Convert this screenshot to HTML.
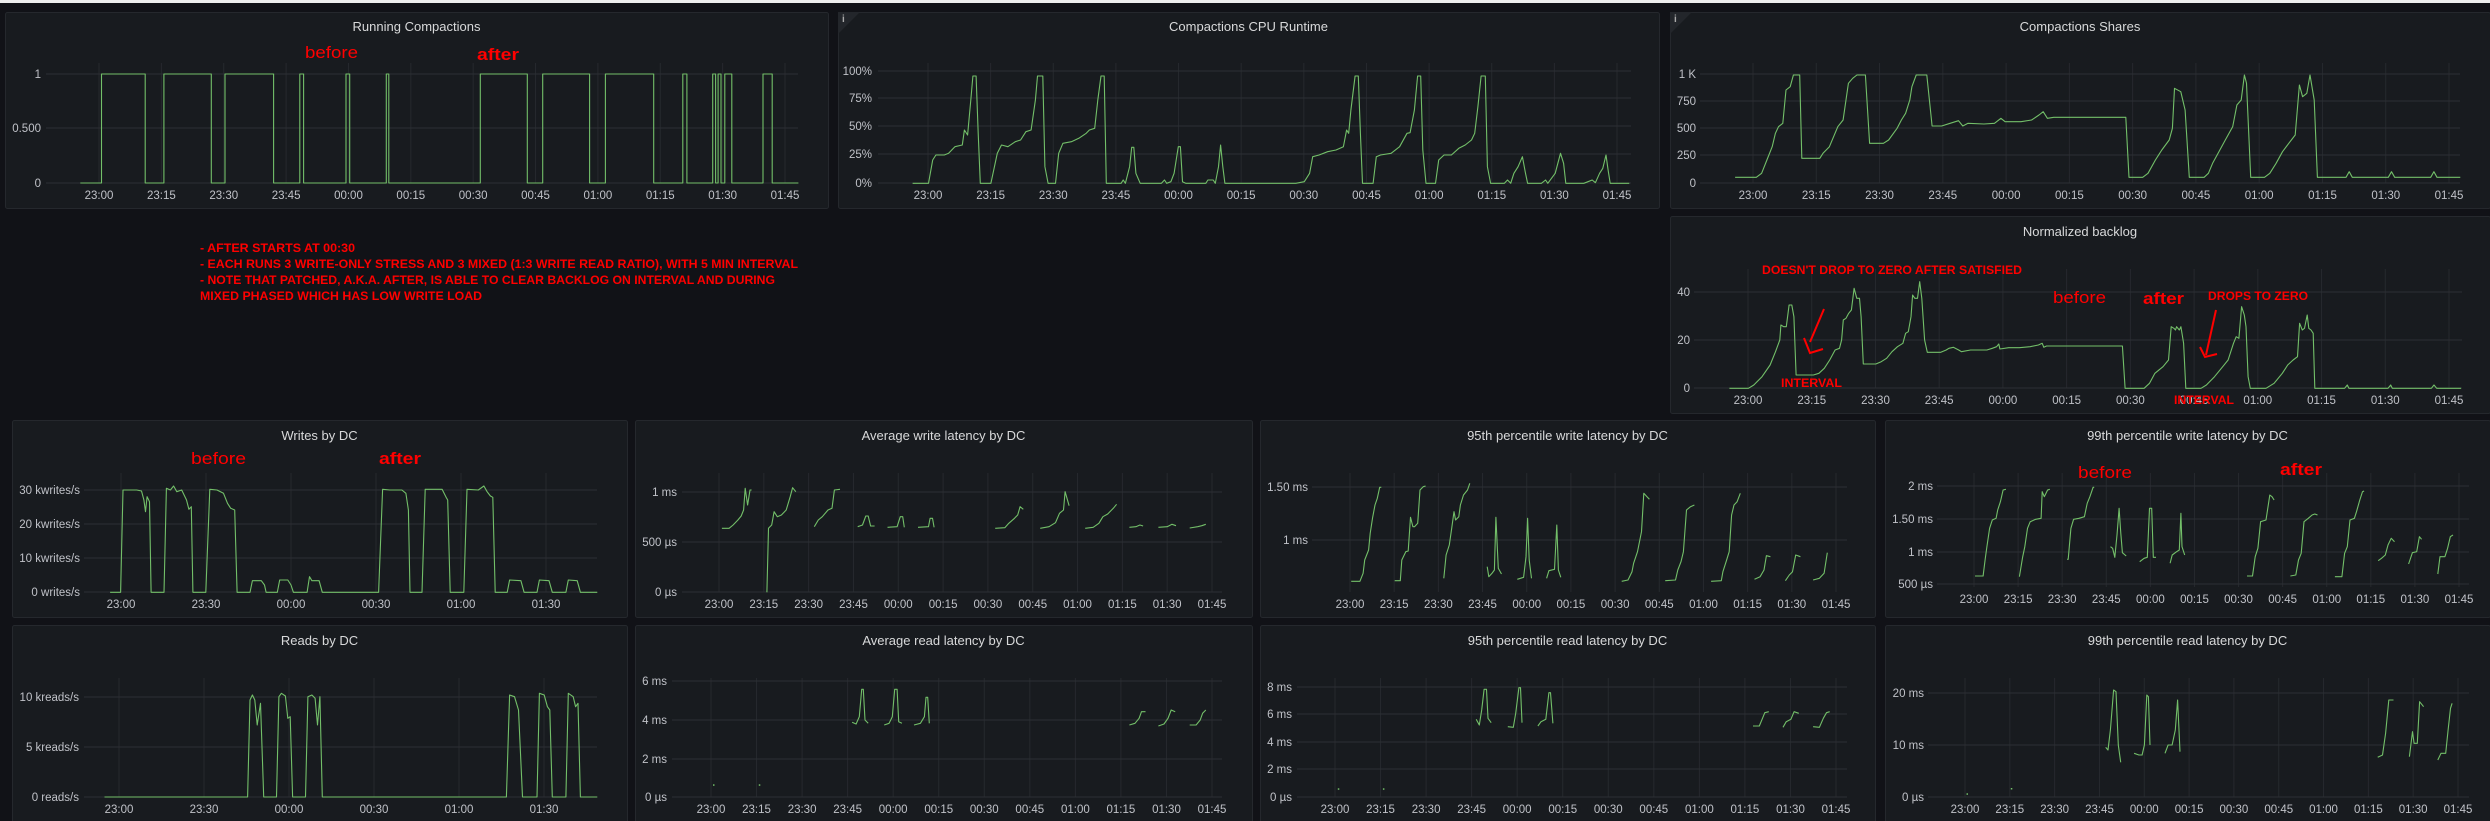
<!DOCTYPE html>
<html><head><meta charset="utf-8"><style>
html,body{margin:0;padding:0;background:#111217;width:2490px;height:821px;overflow:hidden}
svg{display:block}
text{font-family:"Liberation Sans",sans-serif}
</style></head><body>
<svg id="s" xmlns="http://www.w3.org/2000/svg" width="2490" height="821" viewBox="0 0 2490 821"></svg>
<script>
const S=document.getElementById('s');const NS='http://www.w3.org/2000/svg';
function el(n,a,t){const e=document.createElementNS(NS,n);for(const k in a)e.setAttribute(k,a[k]);if(t!==undefined)e.textContent=t;S.appendChild(e);return e;}
el('rect',{x:0,y:0,width:2490,height:821,fill:'#111217'});
el('rect',{x:0,y:0,width:2490,height:3,fill:'#eeeeee'});
const T12=['23:00','23:15','23:30','23:45','00:00','00:15','00:30','00:45','01:00','01:15','01:30','01:45'];
const T6=['23:00','23:30','00:00','00:30','01:00','01:30'];
function chart(c){
 el('rect',{x:c.p[0]+.5,y:c.p[1]+.5,width:c.p[2],height:c.p[3],fill:'#181b1f',stroke:'#25282d','stroke-width':1,rx:2});
 el('text',{x:c.p[0]+c.p[2]/2,y:c.ty,'text-anchor':'middle','font-size':13,fill:'#d8d9da'},c.title);
 const yb=c.yb!==undefined?c.yb:c.yt[c.yt.length-1][0];
 const n=c.xl.length;
 for(let i=0;i<n;i++){const x=c.x0+(c.x1-c.x0)*i/(n-1);
  el('line',{x1:x,y1:c.vt,x2:x,y2:yb,stroke:'#26292e','stroke-width':1});
  el('text',{x:x,y:yb+16,'text-anchor':'middle','font-size':11.5,fill:'#c0c2c8'},c.xl[i]);}
 for(const [y,l] of c.yt){el('line',{x1:c.gl,y1:y,x2:c.gr,y2:y,stroke:'#2c2f34','stroke-width':1});
  el('text',{x:c.lr,y:y+4,'text-anchor':'end','font-size':11.5,fill:'#c0c2c8'},l);}
 for(const seg of c.d){
  const pts=seg.map(p=>[(c.fx(p[0])).toFixed(1),(c.fy(p[1])).toFixed(1)]);
  if(pts.length==1){el('rect',{x:pts[0][0],y:pts[0][1],width:1.5,height:1.5,fill:'#73bf69'});continue;}
  el('polyline',{points:pts.map(p=>p.join(',')).join(' '),fill:'none',stroke:'#73bf69','stroke-width':1.1,'stroke-linejoin':'round'});}
}
function info(x,y){el('path',{d:`M${x} ${y} L${x+22} ${y} L${x} ${y+22} Z`,fill:'#23262b'});el('text',{x:x+4,y:y+10,'font-size':10,fill:'#aaa','font-weight':'bold'},'i');}
function rtext(x,y,w,s,t,b){el('text',{x:x,y:y,textLength:w,lengthAdjust:'spacingAndGlyphs','font-size':s,fill:'#ff0000','font-weight':b?'bold':'normal'},t);}
const rc=[[-4.5,0],[0.6,0],[0.6,1],[11.1,1],[11.1,0],[15.6,0],[15.6,1],[27,1],[27,0],[30.3,0],[30.3,1],[42,1],[42,0],[48.3,0],[48.3,1],[49.2,1],[49.2,0],[59.4,0],[59.4,1],[60.3,1],[60.3,0],[69.1,0],[69.1,1],[69.7,1],[69.7,0],[91.7,0],[91.7,1],[103,1],[103,0],[106.7,0],[106.7,1],[118,1],[118,0],[121.8,0],[121.8,1],[133.4,1],[133.4,0],[140.4,0],[140.4,1],[141.4,1],[141.4,0],[147.6,0],[147.6,1],[148.3,1],[148.3,0],[148.9,0],[148.9,1],[149.6,1],[149.6,0],[150.5,0],[150.5,1],[152.2,1],[152.2,0],[159.7,0],[159.7,1],[161.9,1],[161.9,0],[168.2,0]];
chart({p:[5,12,823,196],title:'Running Compactions',ty:31,x0:99,x1:785,xl:T12,vt:63,gl:46,gr:798,lr:41,
 yt:[[74,'1'],[128,'0.500'],[183,'0']],d:[rc],fx:t=>99+t*4.158,fy:v=>183-v*109});
const z5x=v=>830+v/0.9446;
chart({p:[838,12,821,196],title:'Compactions CPU Runtime',ty:31,x0:928,x1:1617,xl:T12,vt:63,gl:878,gr:1631,lr:872,
 yt:[[71,'100%'],[98,'75%'],[126,'50%'],[154,'25%'],[183,'0%']],fx:z5x,fy:v=>v/3,
 d:[[[78,550],[93,550],[97,480],[100,465],[108,465],[112,460],[118,440],[125,435],[127,390],[130,405],[133,300],[135,228],[138,228],[140,400],[142,550],[152,550],[158,460],[162,435],[168,440],[175,425],[180,420],[185,395],[190,390],[194,300],[196,228],[201,228],[203,500],[206,550],[213,550],[216,460],[220,430],[228,425],[235,415],[242,400],[245,390],[250,385],[253,300],[256,228],[259,228],[261,550],[275,550],[277,540],[279,550],[283,500],[285,442],[287,442],[289,520],[293,550],[313,550],[316,540],[318,550],[322,545],[325,520],[329,440],[331,440],[333,545],[336,550],[355,550],[357,540],[362,540],[364,550],[367,500],[369,435],[371,500],[373,550],[440,550],[448,545],[453,520],[456,470],[462,465],[470,455],[478,450],[485,440],[488,390],[490,400],[492,330],[496,228],[499,228],[501,400],[503,550],[513,550],[516,470],[520,465],[530,460],[538,440],[545,400],[548,398],[552,330],[555,228],[558,228],[560,450],[563,550],[572,550],[575,480],[580,465],[587,465],[594,445],[600,435],[606,420],[609,400],[612,320],[615,228],[619,228],[621,500],[624,550],[637,550],[640,540],[643,550],[646,520],[650,500],[654,470],[657,520],[659,550],[672,550],[676,540],[678,550],[685,520],[690,460],[693,490],[695,550],[712,550],[716,545],[720,540],[723,548],[727,520],[730,505],[733,465],[735,510],[737,550],[755,550]]]});
info(838,12);
chart({p:[1670,12,820,196],title:'Compactions Shares',ty:31,x0:1753,x1:2449,xl:T12,vt:63,gl:1700,gr:2460,lr:1696,
 yt:[[74,'1 K'],[101,'750'],[128,'500'],[155,'250'],[183,'0']],fx:z5x,fy:v=>v/3,
 d:[[[855,532],[875,532],[880,520],[885,480],[890,440],[893,400],[896,380],[900,370],[903,270],[907,260],[910,225],[916,225],[918,475],[935,475],[938,460],[944,440],[948,410],[952,380],[957,360],[962,250],[966,235],[970,225],[978,225],[982,430],[995,430],[1000,420],[1008,385],[1012,360],[1016,340],[1020,300],[1022,260],[1026,225],[1036,225],[1041,378],[1050,378],[1058,370],[1066,362],[1070,378],[1075,370],[1090,372],[1100,370],[1106,355],[1110,365],[1125,365],[1135,360],[1142,345],[1146,335],[1150,355],[1156,352],[1224,352],[1227,532],[1240,532],[1245,520],[1252,480],[1258,450],[1265,420],[1268,385],[1270,265],[1276,275],[1280,330],[1284,532],[1298,532],[1302,520],[1306,490],[1312,455],[1318,420],[1325,380],[1329,315],[1333,300],[1336,225],[1338,250],[1342,532],[1355,532],[1360,520],[1366,490],[1372,455],[1378,430],[1384,405],[1386,330],[1388,255],[1391,290],[1395,280],[1398,225],[1402,300],[1405,532],[1432,532],[1435,515],[1438,532],[1472,532],[1475,515],[1478,532],[1512,532],[1515,515],[1518,532],[1540,532]]]});
info(1670,12);
const z2x=v=>1640+v/1.845, z2y=v=>200+v/3;
chart({p:[1670,216,820,197],title:'Normalized backlog',ty:236,x0:1748,x1:2449,xl:T12,vt:269,gl:1694,gr:2462,lr:1690,
 yt:[[292,'40'],[340,'20'],[388,'0']],fx:z2x,fy:z2y,
 d:[[[165,565],[200,565],[210,555],[225,530],[240,495],[250,455],[258,420],[260,375],[265,380],[270,380],[275,315],[280,315],[284,350],[288,525],[320,525],[330,520],[340,505],[350,480],[360,450],[368,445],[372,420],[375,360],[380,355],[385,340],[390,330],[395,265],[400,295],[405,295],[408,350],[412,492],[435,492],[445,485],[455,475],[465,455],[475,440],[485,430],[490,400],[495,395],[500,350],[503,285],[507,295],[512,295],[516,245],[520,295],[525,420],[530,457],[555,457],[565,450],[570,445],[578,442],[588,450],[593,455],[610,450],[640,450],[650,445],[658,440],[662,432],[664,447],[680,443],[700,443],[720,440],[735,435],[742,430],[745,442],[750,438],[890,438],[895,565],[930,565],[940,550],[950,520],[965,500],[975,480],[980,380],[985,385],[988,390],[990,380],[995,390],[998,380],[1003,430],[1007,565],[1035,565],[1045,555],[1060,530],[1075,500],[1085,480],[1095,430],[1100,410],[1105,415],[1110,320],[1115,345],[1118,380],[1122,530],[1126,565],[1155,565],[1170,550],[1185,520],[1195,495],[1205,480],[1213,470],[1217,370],[1222,390],[1226,385],[1231,345],[1234,385],[1238,390],[1242,400],[1245,565],[1300,565],[1305,555],[1308,565],[1380,565],[1385,555],[1388,565],[1460,565],[1465,555],[1470,565],[1515,565]]]});
const z3x=v=>v/1.244, z3y=v=>410+v/3;
chart({p:[12,420,615,197],title:'Writes by DC',ty:440,x0:121,x1:546,xl:T6,vt:473,gl:84,gr:597,lr:80,
 yt:[[490,'30 kwrites/s'],[524,'20 kwrites/s'],[558,'10 kwrites/s'],[592,'0 writes/s']],fx:z3x,fy:z3y,
 d:[[[137,547],[150,547],[153,240],[170,240],[176,243],[179,270],[181,305],[183,260],[186,275],[188,547],[204,547],[207,235],[212,240],[216,228],[220,245],[226,240],[232,270],[235,298],[238,290],[240,547],[256,547],[261,238],[270,240],[278,250],[283,280],[287,295],[292,300],[295,547],[311,547],[314,512],[325,512],[329,525],[331,547],[345,547],[348,510],[358,510],[362,525],[365,547],[382,547],[385,500],[388,512],[397,512],[401,547],[471,547],[476,238],[485,240],[500,240],[505,250],[508,300],[510,547],[525,547],[529,238],[550,238],[555,262],[557,270],[560,547],[577,547],[581,238],[595,240],[602,228],[606,245],[610,258],[613,262],[616,547],[631,547],[634,510],[648,512],[652,547],[668,547],[671,510],[683,512],[687,547],[704,547],[707,510],[718,512],[722,547],[743,547]]]});
chart({p:[635,420,617,197],title:'Average write latency by DC',ty:440,x0:719,x1:1212,xl:T12,vt:473,gl:682,gr:1222,lr:677,
 yt:[[492,'1 ms'],[542,'500 µs'],[592,'0 µs']],fx:z3x,fy:z3y,
 d:[[[898,355],[907,355],[912,345],[918,330],[922,318],[925,300],[927,235],[930,285],[933,240],[935,240]],[[954,547],[956,355],[960,345],[963,305],[967,320],[972,315],[978,300],[983,260],[986,233],[990,245]],[[1013,350],[1018,330],[1023,320],[1030,300],[1035,295],[1038,240],[1045,238]],[[1067,350],[1073,345],[1077,318],[1080,318],[1083,348],[1088,348]],[[1104,352],[1116,350],[1120,320],[1123,320],[1125,352]],[[1142,352],[1155,350],[1157,325],[1160,325],[1162,352]],[[1238,355],[1250,353],[1255,340],[1262,325],[1266,315],[1269,290],[1273,298]],[[1294,355],[1305,350],[1313,338],[1318,310],[1323,300],[1325,245],[1330,287]],[[1350,355],[1360,352],[1367,340],[1372,320],[1378,312],[1385,295],[1389,283]],[[1405,352],[1413,350],[1418,345],[1422,348]],[[1441,352],[1452,350],[1458,343],[1463,347]],[[1480,354],[1490,350],[1495,347],[1500,343]]]});
const z4x=v=>1250+v/1.2645, z4y=v=>410+v/3;
chart({p:[1260,420,615,197],title:'95th percentile write latency by DC',ty:440,x0:1350,x1:1836,xl:T12,vt:473,yb:592,gl:1312,gr:1847,lr:1308,
 yt:[[487,'1.50 ms'],[540,'1 ms']],fx:z4x,fy:z4y,
 d:[[[128,514],[139,514],[143,490],[145,450],[150,420],[152,370],[155,323],[158,285],[161,265],[164,232],[166,232]],[[183,512],[190,512],[192,450],[197,425],[200,423],[203,322],[206,350],[208,350],[212,340],[215,240],[219,230],[222,228]],[[245,505],[248,435],[252,405],[255,355],[258,305],[260,330],[264,320],[266,285],[270,255],[275,240],[278,220]],[[300,470],[302,500],[306,490],[309,480],[311,322],[314,475],[318,492]],[[338,508],[346,502],[349,440],[351,325],[353,450],[356,505]],[[375,505],[378,482],[385,478],[388,345],[390,480],[393,502]],[[470,514],[478,510],[483,485],[485,460],[490,425],[495,365],[498,250],[502,260],[505,268]],[[525,512],[538,510],[541,480],[545,455],[548,425],[552,300],[557,290],[562,285]],[[583,514],[596,512],[598,485],[602,455],[606,425],[609,315],[612,285],[616,275],[620,250]],[[638,508],[645,500],[650,480],[653,437],[658,440]],[[677,512],[682,495],[686,485],[690,435],[696,440]],[[712,510],[720,505],[726,490],[730,428]]]});
chart({p:[1885,420,605,197],title:'99th percentile write latency by DC',ty:440,x0:1974,x1:2459,xl:T12,vt:473,yb:587,gl:1937,gr:2469,lr:1933,
 yt:[[486,'2 ms'],[519,'1.50 ms'],[552,'1 ms'],[584,'500 µs']],fx:z2x,fy:z2y,
 d:[[[618,1128],[633,1128],[637,1075],[640,1040],[645,985],[650,960],[657,955],[660,930],[665,905],[670,870],[675,868]],[[700,1130],[706,1070],[710,1040],[715,985],[720,965],[730,958],[740,955],[742,875],[746,890],[752,870],[756,868]],[[788,1078],[790,1078],[795,985],[800,958],[810,955],[820,950],[825,910],[830,890],[836,862],[838,862]],[[868,1040],[872,1045],[876,1072],[880,1005],[884,925],[887,1000],[890,1058],[897,1068]],[[922,1085],[930,1075],[936,1072],[940,925],[944,925],[947,1072],[952,1072]],[[978,1090],[982,1065],[990,1055],[995,1050],[998,940],[1000,1040],[1005,1065]],[[1120,1128],[1130,1128],[1135,1070],[1140,1045],[1145,965],[1155,960],[1162,885],[1166,890],[1170,900]],[[1200,1128],[1210,1125],[1215,1080],[1220,1060],[1225,965],[1233,955],[1240,945],[1245,942],[1250,945]],[[1282,1130],[1295,1130],[1300,1060],[1305,1040],[1310,960],[1318,955],[1322,935],[1328,900],[1333,875],[1336,873]],[[1362,1082],[1368,1075],[1375,1065],[1380,1035],[1386,1015],[1392,1025]],[[1418,1092],[1425,1058],[1433,1055],[1438,1010],[1442,1018]],[[1472,1122],[1476,1070],[1485,1070],[1490,1045],[1495,1010],[1500,1005]]]});
chart({p:[12,625,615,200],title:'Reads by DC',ty:645,x0:119,x1:544,xl:T6,vt:678,gl:84,gr:597,lr:79,
 yt:[[697,'10 kreads/s'],[747,'5 kreads/s'],[797,'0 reads/s']],fx:z3x,fy:z3y,
 d:[[[130,1161],[308,1161],[311,870],[314,855],[317,870],[320,945],[324,880],[328,1161],[344,1161],[347,860],[350,850],[355,858],[358,925],[361,920],[364,1161],[380,1161],[383,860],[388,855],[392,865],[395,945],[398,860],[401,1161],[630,1161],[634,855],[640,860],[645,900],[650,1161],[668,1161],[671,850],[677,855],[681,890],[684,900],[687,1161],[704,1161],[707,850],[713,860],[716,890],[719,880],[722,1161],[743,1161]]]});
chart({p:[635,625,617,200],title:'Average read latency by DC',ty:645,x0:711,x1:1212,xl:T12,vt:678,gl:672,gr:1222,lr:667,
 yt:[[681,'6 ms'],[720,'4 ms'],[759,'2 ms'],[797,'0 µs']],fx:z3x,fy:z3y,
 d:[[[887,1123]],[[944,1123]],[[1060,937],[1065,942],[1069,920],[1072,838],[1074,838],[1076,930],[1080,940]],[[1100,945],[1106,940],[1110,920],[1113,838],[1116,838],[1118,935],[1122,940]],[[1137,945],[1145,940],[1150,920],[1152,862],[1154,862],[1156,940]],[[1405,945],[1412,940],[1417,925],[1420,905],[1425,905]],[[1441,948],[1448,942],[1453,925],[1457,900],[1462,905]],[[1480,945],[1488,945],[1493,930],[1496,910],[1500,900]]]});
chart({p:[1260,625,615,200],title:'95th percentile read latency by DC',ty:645,x0:1335,x1:1836,xl:T12,vt:678,gl:1297,gr:1847,lr:1292,
 yt:[[687,'8 ms'],[714,'6 ms'],[742,'4 ms'],[769,'2 ms'],[797,'0 µs']],fx:z4x,fy:z4y,
 d:[[[111,1135]],[[168,1135]],[[286,928],[290,945],[293,900],[296,838],[299,838],[301,925],[305,938]],[[326,950],[333,952],[336,910],[340,833],[342,833],[344,938]],[[364,948],[368,935],[374,928],[378,848],[380,848],[383,940]],[[636,948],[644,948],[648,925],[651,908],[656,905]],[[674,952],[678,935],[684,928],[688,905],[694,910]],[[712,950],[720,952],[725,925],[729,908],[733,905]]]});
chart({p:[1885,625,605,200],title:'99th percentile read latency by DC',ty:645,x0:1965,x1:2458,xl:T12,vt:678,gl:1928,gr:2469,lr:1924,
 yt:[[693,'20 ms'],[745,'10 ms'],[797,'0 µs']],fx:z4x,fy:z4y,
 d:[[[906,1150]],[[962,1134]],[[1082,1012],[1085,1020],[1088,960],[1092,840],[1095,845],[1098,1005],[1101,1057]],[[1118,1030],[1124,1035],[1128,1035],[1131,1005],[1134,855],[1136,860],[1138,1005]],[[1157,1030],[1161,1005],[1166,1005],[1170,960],[1173,870],[1176,1025]],[[1426,1042],[1432,1035],[1436,970],[1440,870],[1446,870]],[[1466,1040],[1470,965],[1472,1000],[1476,1000],[1479,875],[1484,890]],[[1502,1050],[1506,1030],[1512,1030],[1515,960],[1518,895],[1520,880]]]});
rtext(305,58,53,17,'before',false);rtext(477,60,42,17,'after',true);
rtext(191,464,55,17,'before',false);rtext(379,464,42,17,'after',true);
rtext(2078,478,54,17,'before',false);rtext(2280,475,42,17,'after',true);
rtext(2053,303,53,17,'before',false);rtext(2143,304,41,17,'after',true);
rtext(1762,274,260,12,"DOESN'T DROP TO ZERO AFTER SATISFIED",true);
rtext(1781,387,61,12,'INTERVAL',true);
rtext(2208,300,100,12,'DROPS TO ZERO',true);
rtext(2174,404,60,12,'INTERVAL',true);
rtext(200,252,155,12,'- AFTER STARTS AT 00:30',true);
rtext(200,268,598,12,'- EACH RUNS 3 WRITE-ONLY STRESS AND 3 MIXED (1:3 WRITE READ RATIO), WITH 5 MIN INTERVAL',true);
rtext(200,284,575,12,'- NOTE THAT PATCHED, A.K.A. AFTER, IS ABLE TO CLEAR BACKLOG ON INTERVAL AND DURING',true);
rtext(200,300,282,12,'MIXED PHASED WHICH HAS LOW WRITE LOAD',true);
const ar={stroke:'#ff0000','stroke-width':2,fill:'none'};
el('line',Object.assign({x1:1824,y1:309,x2:1810,y2:342},ar));
el('polyline',Object.assign({points:'1804,338 1810,353 1823,349'},ar));
el('line',Object.assign({x1:2216,y1:310,x2:2206,y2:355},ar));
el('polyline',Object.assign({points:'2200,347 2205,357 2217,354'},ar));
</script>
</body></html>
